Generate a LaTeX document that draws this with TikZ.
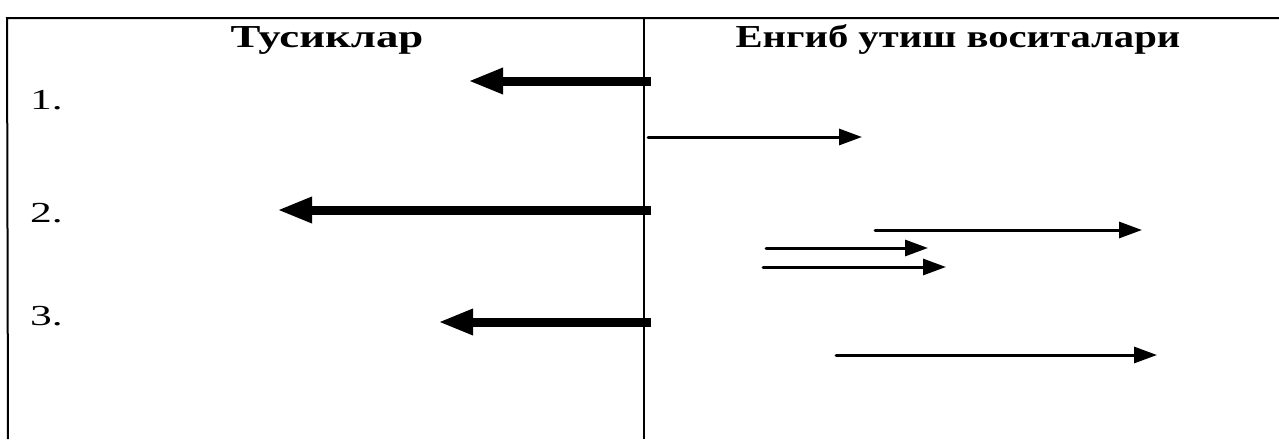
\documentclass[tikz,border=0pt]{standalone}
\usepackage{fontspec}
\usepackage{graphicx}
\setmainfont{Liberation Serif}
\usetikzlibrary{arrows.meta}
\tikzset{
  frameline/.style={line width=2pt},
  thickarrow/.style={line width=9pt, line cap=butt, -{Triangle[length=35pt,width=24pt]}},
  thinarrow/.style={line width=3pt, line cap=round, -{Triangle[length=23pt,width=16pt]}},
  heading/.style={anchor=base, inner sep=0pt, font=\fontsize{32}{36}\selectfont\bfseries},
  numlabel/.style={anchor=base west, inner sep=0pt, font=\fontsize{29}{34}\selectfont},
}
\begin{document}
\begin{tikzpicture}[x=1pt,y=-1pt]
\useasboundingbox (0,0) rectangle (1279,439);
% frame
\coordinate (tl) at (7,18);
\coordinate (tr) at (1279,18);
\coordinate (bl) at (8,439);
\coordinate (mt) at (644,18);
\coordinate (mb) at (644,439);
\draw[frameline] (tr) -- (tl) -- (bl);
\draw[frameline] (mt) -- (mb);
% headings
\node[heading] (h1) at (327,47) {\scalebox{1.40}[1]{Тусиклар}};
\node[heading] (h2) at (958,47) {\scalebox{1.27}[1]{Енгиб утиш воситалари}};
% numbers
\node[numlabel] (n1) at (30,109) {\scalebox{1.5}[1]{1.}};
\node[numlabel] (n2) at (30,222) {\scalebox{1.5}[1]{2.}};
\node[numlabel] (n3) at (30,325) {\scalebox{1.5}[1]{3.}};
% thick arrows (left)
\coordinate (a1s) at (651,81);  \coordinate (a1e) at (468,81);
\coordinate (a2s) at (651,210); \coordinate (a2e) at (277,210);
\coordinate (a3s) at (651,322); \coordinate (a3e) at (438,322);
\draw[thickarrow] (a1s) -- (a1e);
\draw[thickarrow] (a2s) -- (a2e);
\draw[thickarrow] (a3s) -- (a3e);
% thin arrows (right)
\coordinate (b1s) at (648,137); \coordinate (b1e) at (862,137);
\coordinate (b2s) at (875,230); \coordinate (b2e) at (1142,230);
\coordinate (b3s) at (766,248); \coordinate (b3e) at (928,248);
\coordinate (b4s) at (763,267); \coordinate (b4e) at (946,267);
\coordinate (b5s) at (836,355); \coordinate (b5e) at (1157,355);
\draw[thinarrow] (b1s) -- (b1e);
\draw[thinarrow] (b2s) -- (b2e);
\draw[thinarrow] (b3s) -- (b3e);
\draw[thinarrow] (b4s) -- (b4e);
\draw[thinarrow] (b5s) -- (b5e);
\end{tikzpicture}
\end{document}
